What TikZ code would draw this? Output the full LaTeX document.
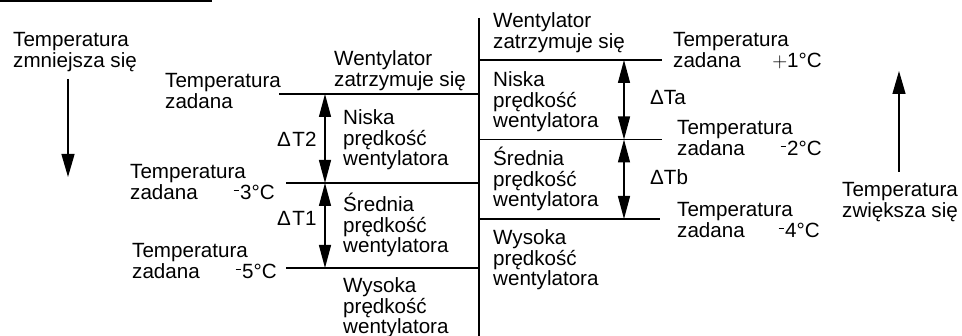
\documentclass[tikz,border=0pt]{standalone}
\usepackage{fontspec}
\setmainfont{Liberation Sans}
\usetikzlibrary{arrows.meta}
\newcommand\mneg{\kern1pt\rule[8.5pt]{5.5pt}{1.2pt}\kern1.2pt}
\begin{document}
\begin{tikzpicture}[x=1pt,y=-1pt,
 lbl/.style={anchor=base west, inner sep=0pt, align=left, font=\fontsize{20.6}{20.6}\selectfont},
 val/.style={anchor=base east, inner sep=0pt, font=\fontsize{20.6}{20.6}\selectfont},
 level/.style={line width=1.3pt},
 dbl/.style={line width=1.3pt, {Triangle[length=23pt,width=12pt]}-{Triangle[length=23pt,width=12pt]}},
 sgl/.style={line width=1.3pt, -{Triangle[length=23pt,width=13pt]}}]
\useasboundingbox (0,0) rectangle (962,336);
% top frame fragment
\coordinate (f1) at (0,1);
\coordinate (f2) at (212,1);
\draw[line width=2pt] (f1) -- (f2);
% vertical divider
\coordinate (vt) at (479,18);
\coordinate (vb) at (479,336);
\draw[level] (vt) -- (vb);
% left levels
\coordinate (l1a) at (279,94);  \coordinate (l1b) at (479,94);
\coordinate (l2a) at (286,183); \coordinate (l2b) at (479,183);
\coordinate (l3a) at (286,268); \coordinate (l3b) at (479,268);
\draw[level] (l1a) -- (l1b);
\draw[level] (l2a) -- (l2b);
\draw[level] (l3a) -- (l3b);
% right levels
\coordinate (r1a) at (479,60);    \coordinate (r1b) at (662,60);
\coordinate (r2a) at (479,139.5); \coordinate (r2b) at (662,139.5);
\coordinate (r3a) at (479,219);   \coordinate (r3b) at (660,219);
\draw[level] (r1a) -- (r1b);
\draw[level] (r2a) -- (r2b);
\draw[level] (r3a) -- (r3b);
% dimension arrows
\coordinate (t2a) at (325,94);  \coordinate (t2b) at (325,183);
\coordinate (t1a) at (325,183); \coordinate (t1b) at (325,268);
\coordinate (taa) at (624,60);  \coordinate (tab) at (624,139.5);
\coordinate (tba) at (624,139.5); \coordinate (tbb) at (624,219);
\draw[dbl] (t2a) -- (t2b);
\draw[dbl] (t1a) -- (t1b);
\draw[dbl] (taa) -- (tab);
\draw[dbl] (tba) -- (tbb);
% direction arrows
\coordinate (da) at (68,79);  \coordinate (db) at (68,177);
\coordinate (ua) at (899,172); \coordinate (ub) at (899,71);
\draw[sgl] (da) -- (db);
\draw[sgl] (ua) -- (ub);
% labels left (anchor = baseline of last line)
\node[lbl] (dec) at (13,67.5) {Temperatura\\zmniejsza się};
\node[lbl] (set0) at (165,108.5) {Temperatura\\zadana};
\node[lbl] (stopL) at (334,86.5) {Wentylator\\zatrzymuje się};
\node[lbl] (lowL) at (343,166) {Niska\\prędkość\\wentylatora};
\node[lbl] (dT2) at (277,147) {Δ\kern1.5pt T2};
\node[lbl] (set3) at (130,199.5) {Temperatura\\zadana};
\node[val] (v3) at (275,199.5) {\mneg 3°C};
\node[lbl] (dT1) at (277,226) {Δ\kern1.5pt T1};
\node[lbl] (midL) at (343,253) {Średnia\\prędkość\\wentylatora};
\node[lbl] (set5) at (132,278.5) {Temperatura\\zadana};
\node[val] (v5) at (277,278.5) {\mneg 5°C};
\node[lbl] (highL) at (343,334) {Wysoka\\prędkość\\wentylatora};
% labels right
\node[lbl] (stopR) at (493,48.5) {Wentylator\\zatrzymuje się};
\node[lbl] (lowR) at (493,128) {Niska\\prędkość\\wentylatora};
\node[lbl] (dTa) at (650,105) {ΔTa};
\node[lbl] (midR) at (493,207) {Średnia\\prędkość\\wentylatora};
\node[lbl] (dTb) at (650,185) {ΔTb};
\node[lbl] (highR) at (493,286) {Wysoka\\prędkość\\wentylatora};
\node[lbl] (set1) at (673,67.5) {Temperatura\\zadana};
\node[val] (v1) at (822,67.5) {$+$1°C};
\node[lbl] (set2) at (677,155.5) {Temperatura\\zadana};
\node[val] (v2) at (822,155.5) {\mneg 2°C};
\node[lbl] (set4) at (677,237.5) {Temperatura\\zadana};
\node[val] (v4) at (820,237.5) {\mneg 4°C};
\node[lbl] (inc) at (842,217.5) {Temperatura\\zwiększa się};
\end{tikzpicture}
\end{document}
